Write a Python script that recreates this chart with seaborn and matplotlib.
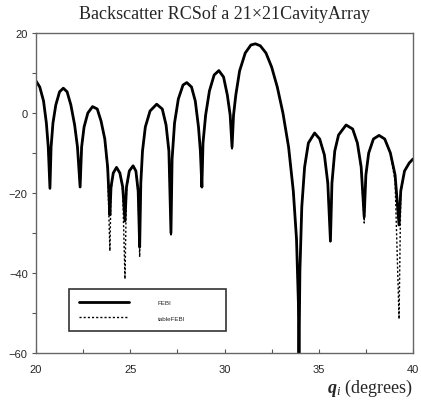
import matplotlib
matplotlib.use("Agg")
import matplotlib.pyplot as plt
from matplotlib.ticker import MultipleLocator
import seaborn as sns
import pandas as pd

sns.set_theme(style="white")
plt.rcParams['font.family'] = ['Liberation Sans', 'DejaVu Sans']
plt.rcParams['mathtext.fontset'] = 'custom'
plt.rcParams['mathtext.bf'] = 'Liberation Serif:italic:bold'
plt.rcParams['mathtext.it'] = 'Liberation Serif:italic'
plt.rcParams['mathtext.rm'] = 'Liberation Serif'

title = "Backscatter RCSof a 21×21CavityArray"
xlabel = r"$\mathbf{q}_{\mathit{i}}$ (degrees)"
series_names = ["FEBI", "tableFEBI"]

# angle (degrees)
theta = [20.0, 20.2, 20.4, 20.55, 20.65, 20.74,
         20.8, 20.9, 21.05, 21.25, 21.45, 21.65, 21.85, 22.05, 22.2, 22.34,
         22.42, 22.55, 22.75, 23.0, 23.25, 23.45, 23.65, 23.8, 23.92,
         23.98, 24.1, 24.27, 24.45, 24.6, 24.72,
         24.8, 24.95, 25.15, 25.3, 25.42, 25.5,
         25.56, 25.65, 25.8, 26.05, 26.4, 26.7, 26.9, 27.05, 27.16,
         27.22, 27.35, 27.55, 27.8, 28.0, 28.25, 28.45, 28.62, 28.72, 28.8,
         28.86, 29.0, 29.2, 29.45, 29.7, 29.95, 30.15, 30.3, 30.4,
         30.48, 30.6, 30.8, 31.1, 31.4, 31.64, 31.9, 32.2, 32.5, 32.8, 33.1, 33.4, 33.65, 33.82, 33.92, 33.95,
         34.0, 34.1, 34.25, 34.45, 34.78, 35.05, 35.3, 35.48, 35.62,
         35.7, 35.85, 36.05, 36.45, 36.8, 37.05, 37.25, 37.41,
         37.5, 37.65, 37.9, 38.2, 38.5, 38.8, 39.05, 39.26,
         39.35, 39.55, 39.8, 40.0]

# FEBI (solid)
rcs_febi = [8.0, 6.5, 3.0, -2.5, -8.5, -18.8,
            -8.5, -2.5, 2.0, 5.3, 6.2, 5.3, 2.0, -3.0, -8.5, -18.5,
            -8.5, -3.5, 0.0, 1.6, 1.0, -2.0, -6.5, -13.5, -25.5,
            -18.5, -15.0, -13.6, -15.0, -18.5, -27.0,
            -18.5, -14.5, -13.2, -14.5, -19.5, -33.5,
            -17.5, -9.5, -3.5, 0.5, 2.2, 1.0, -3.0, -9.5, -30.0,
            -11.5, -2.5, 3.5, 7.0, 7.6, 6.5, 3.0, -3.5, -9.5, -18.5,
            -7.5, -0.5, 5.5, 9.5, 10.6, 9.0, 4.5, -0.5, -8.5,
            -0.5, 4.5, 10.5, 15.0, 17.0, 17.3, 16.8, 15.0, 11.5, 6.5, 0.0, -8.5, -19.5, -31.5, -47.5, -62.0,
            -39.5, -23.5, -13.5, -7.5, -5.0, -6.5, -10.5, -17.5, -32.0,
            -17.5, -9.5, -5.5, -3.0, -4.0, -7.5, -13.5, -26.0,
            -15.5, -10.0, -6.5, -5.6, -6.5, -10.0, -15.5, -28.0,
            -19.5, -14.5, -12.5, -11.5]

# tableFEBI (dotted)
rcs_table = [8.0, 6.5, 3.0, -2.5, -8.5, -19.0,
             -8.5, -2.5, 2.0, 5.3, 6.2, 5.3, 2.0, -3.0, -8.5, -18.8,
             -8.5, -3.5, 0.0, 1.6, 1.0, -2.0, -6.5, -14.5, -34.5,
             -19.5, -15.0, -13.6, -15.0, -19.5, -41.5,
             -19.5, -14.5, -13.2, -14.5, -20.5, -36.0,
             -17.5, -9.5, -3.5, 0.5, 2.2, 1.0, -3.0, -9.5, -30.5,
             -11.5, -2.5, 3.5, 7.0, 7.6, 6.5, 3.0, -3.5, -9.5, -19.0,
             -7.5, -0.5, 5.5, 9.5, 10.6, 9.0, 4.5, -0.5, -9.0,
             -0.5, 4.5, 10.5, 15.0, 17.0, 17.3, 16.8, 15.0, 11.5, 6.5, 0.0, -8.5, -19.5, -31.5, -48.0, -62.0,
             -40.0, -23.5, -13.5, -7.5, -5.0, -6.5, -10.5, -18.0, -32.5,
             -17.5, -9.5, -5.5, -3.0, -4.0, -7.5, -14.0, -27.5,
             -15.5, -10.0, -6.5, -5.6, -6.5, -10.0, -17.0, -51.5,
             -20.0, -14.5, -12.5, -11.5]

df = pd.DataFrame({
    "theta": theta * 2,
    "rcs": rcs_febi + rcs_table,
    "method": [series_names[0]] * len(theta) + [series_names[1]] * len(theta),
})

fig = plt.figure(figsize=(4.21, 4.06), dpi=100)
ax = fig.add_axes([36 / 421, 1 - 354 / 406, 377 / 421, 320 / 406])

sns.lineplot(data=df[df.method == series_names[1]], x="theta", y="rcs", ax=ax,
             color="black", lw=1.0, linestyle=(0, (1.5, 1.5)), label=series_names[1],
             estimator=None, sort=False)
sns.lineplot(data=df[df.method == series_names[0]], x="theta", y="rcs", ax=ax,
             color="black", lw=2.0, label=series_names[0],
             estimator=None, sort=False)

ax.set_xlim(20, 40)
ax.set_ylim(-60, 20)
ax.xaxis.set_major_locator(MultipleLocator(5))
ax.xaxis.set_minor_locator(MultipleLocator(2.5))
ax.yaxis.set_major_locator(MultipleLocator(20))
ax.yaxis.set_minor_locator(MultipleLocator(10))
ax.tick_params(axis='x', which='both', direction='in', length=3, width=0.8,
               color='#555555', labelsize=8, pad=8, bottom=True)
ax.tick_params(axis='y', which='both', direction='out', length=3, width=0.8,
               color='#555555', labelsize=8, pad=3, left=True)
for s in ax.spines.values():
    s.set_color('#666666')
    s.set_linewidth(1.0)

ax.set_title(title, family='Liberation Serif', fontsize=13, pad=11)
ax.set_xlabel(xlabel, family='Liberation Serif', fontsize=13, loc='right', labelpad=2)
ax.set_ylabel("")

handles, labels = ax.get_legend_handles_labels()
order = [labels.index(series_names[0]), labels.index(series_names[1])]
leg = ax.legend([handles[i] for i in order], [labels[i] for i in order],
                loc='lower left', bbox_to_anchor=(0.087, 0.068, 0.416, 0.13),
                mode='expand', fontsize=4.5,
                handlelength=8, handletextpad=4.5, frameon=True, fancybox=False,
                borderpad=1.7, labelspacing=1.6, borderaxespad=0)
leg.get_frame().set_edgecolor('black')
leg.get_frame().set_linewidth(1.2)

fig.savefig("out.png", dpi=100)
